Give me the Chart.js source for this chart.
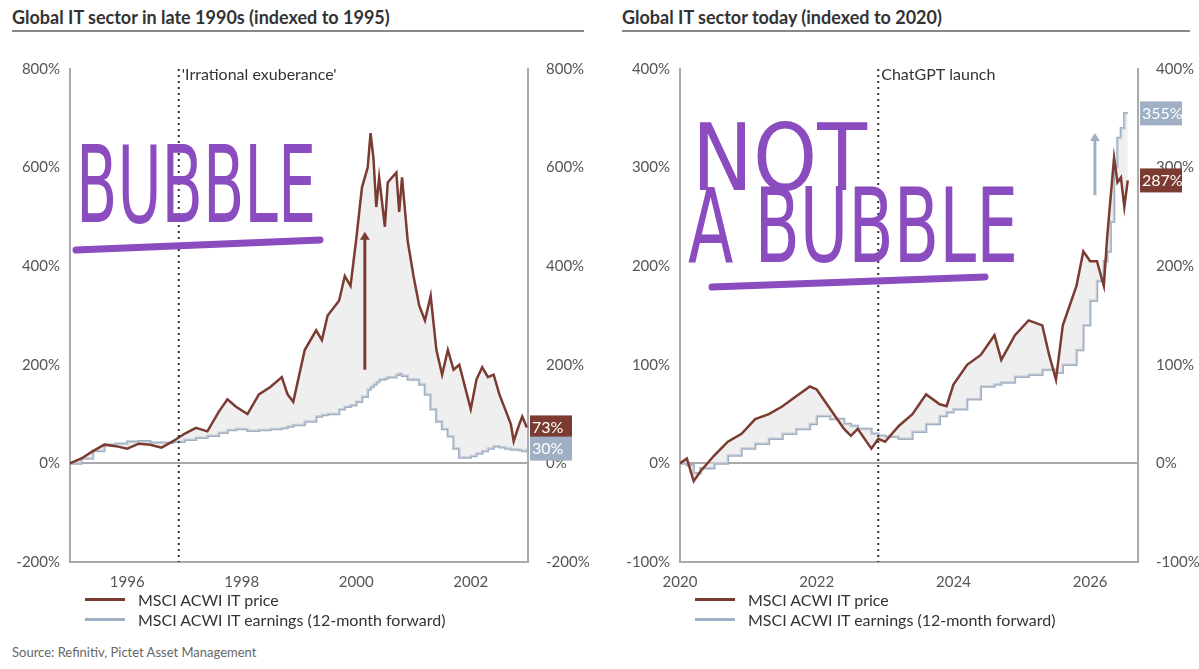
<!DOCTYPE html>
<html>
<head>
<meta charset="utf-8">
<script src="https://cdn.jsdelivr.net/npm/chart.js@4"></script>
<style>
body { margin:0; width:1199px; height:669px; background:#fff; font-family:Lato, sans-serif; position:relative; overflow:hidden; }
.title { position:absolute; top:6px; font-size:18px; font-weight:bold; color:#333; }
.rule { position:absolute; top:30px; height:2px; background:#888; }
.box { position:absolute; top:50px; height:540px; }
.legend { position:absolute; font-size:16px; color:#333; }
.legend div { height:20px; display:flex; align-items:center; }
.legend span { display:inline-block; width:40px; height:3px; margin-right:13px; }
.source { position:absolute; left:12px; top:644px; font-size:13px; color:#666; }
</style>
</head>
<body>
<div class="title" style="left:12px">Global IT sector in late 1990s (indexed to 1995)</div>
<div class="rule" style="left:12px;width:572px"></div>
<div class="title" style="left:622px">Global IT sector today (indexed to 2020)</div>
<div class="rule" style="left:622px;width:568px"></div>
<div class="box" style="left:0;width:600px"><canvas id="left"></canvas></div>
<div class="box" style="left:610px;width:589px"><canvas id="right"></canvas></div>
<div class="legend" style="left:85px;top:589px">
  <div><span style="background:#7b3b31"></span>MSCI ACWI IT price</div>
  <div><span style="background:#9fb0c4"></span>MSCI ACWI IT earnings (12-month forward)</div>
</div>
<div class="legend" style="left:695px;top:589px">
  <div><span style="background:#7b3b31"></span>MSCI ACWI IT price</div>
  <div><span style="background:#9fb0c4"></span>MSCI ACWI IT earnings (12-month forward)</div>
</div>
<div class="source">Source: Refinitiv, Pictet Asset Management</div>
<script>
// Late 1990s (decimal years, % vs 1995)
const oldDates = [1995.0,1995.2,1995.4,1995.6,1995.8,1996.0,1996.2,1996.4,1996.6,1996.8,1997.0,1997.2,1997.4,1997.6,1997.75,1997.9,1998.1,1998.3,1998.5,1998.7,1998.8,1998.9,1999.1,1999.3,1999.4,1999.5,1999.7,1999.8,1999.9,2000.0,2000.1,2000.2,2000.25,2000.3,2000.35,2000.4,2000.5,2000.55,2000.7,2000.75,2000.8,2000.9,2001.0,2001.1,2001.2,2001.3,2001.4,2001.5,2001.6,2001.7,2001.8,2002.0,2002.1,2002.2,2002.3,2002.4,2002.5,2002.6,2002.7,2002.75,2002.85,2002.9,2002.98];
const oldPrice = [0,10,25,38,35,30,40,38,32,45,60,72,65,105,130,115,100,140,155,175,140,125,230,270,250,300,330,380,360,455,560,600,670,620,520,580,480,570,590,510,580,450,380,320,290,340,230,180,230,190,200,110,170,195,175,180,140,110,80,45,80,95,73];
const oldEarn = [0,10,25,38,40,44,45,42,42,44,48,52,56,62,68,70,66,68,70,72,75,78,85,95,98,100,110,115,118,125,135,150,155,160,165,170,172,175,180,182,178,170,170,160,140,110,85,70,55,30,12,15,20,25,30,35,33,30,28,28,27,25,30];
const oldTicks = [1996,1998,2000,2002];

// Today (decimal years, % vs 2020)
const newDates = [2020.0,2020.1,2020.2,2020.3,2020.5,2020.7,2020.9,2021.1,2021.3,2021.5,2021.7,2021.9,2022.0,2022.2,2022.4,2022.5,2022.6,2022.8,2022.9,2023.0,2023.2,2023.4,2023.6,2023.8,2023.9,2024.0,2024.2,2024.4,2024.6,2024.7,2024.9,2025.1,2025.3,2025.4,2025.5,2025.6,2025.8,2025.9,2026.0,2026.1,2026.2,2026.25,2026.3,2026.35,2026.4,2026.45,2026.5,2026.55];
const newPrice = [0,5,-18,-8,8,22,30,45,50,58,68,78,75,55,35,28,35,15,25,22,38,50,70,60,58,80,100,110,130,105,130,145,140,110,85,140,180,215,205,205,180,230,270,310,285,290,260,287];
const newEarn = [0,-2,-10,-5,0,8,15,20,25,30,35,40,48,45,40,38,35,30,28,27,25,32,40,48,52,55,65,78,80,82,88,90,95,95,92,100,115,140,165,185,205,215,245,300,330,340,355,355];
const newTicks = [2020,2022,2024,2026];

const brown = '#7b3b31', blue = '#9fb0c4', purple = '#8b4cc0';

function pts(xs, ys) { return xs.map((x, i) => ({ x: x, y: ys[i] })); }

const overlay = {
  id: 'overlay',
  afterDatasetsDraw(chart) {
    const o = chart.options.plugins.overlay;
    const ctx = chart.ctx, a = chart.chartArea;
    const xs = chart.scales.x, ys = chart.scales.y;
    ctx.save();
    // dotted event line
    const ex = xs.getPixelForValue(o.eventX);
    ctx.strokeStyle = '#333'; ctx.lineWidth = 2; ctx.setLineDash([2, 4]);
    ctx.beginPath(); ctx.moveTo(ex, a.top); ctx.lineTo(ex, a.bottom); ctx.stroke();
    ctx.setLineDash([]);
    ctx.fillStyle = '#333'; ctx.font = '16px Lato'; ctx.textBaseline = 'middle';
    ctx.fillText(o.eventText, ex + 3, a.top + 6);
    // arrow
    const ax = xs.getPixelForValue(o.arrow[0]);
    const ay0 = ys.getPixelForValue(o.arrow[1]), ay1 = ys.getPixelForValue(o.arrow[2]);
    ctx.strokeStyle = o.arrowColor; ctx.fillStyle = o.arrowColor; ctx.lineWidth = 3;
    ctx.beginPath(); ctx.moveTo(ax, ay0); ctx.lineTo(ax, ay1 + 6); ctx.stroke();
    ctx.beginPath(); ctx.moveTo(ax - 5, ay1 + 8); ctx.lineTo(ax + 5, ay1 + 8); ctx.lineTo(ax, ay1); ctx.fill();
    // end labels
    o.ends.forEach(e => {
      const y = ys.getPixelForValue(e.v);
      ctx.fillStyle = e.c; ctx.fillRect(a.right + 2, y - 12, 42, 24);
      ctx.fillStyle = '#fff'; ctx.font = '16px Lato'; ctx.textAlign = 'left';
      ctx.fillText(e.t, a.right + 4, y);
    });
    // handwriting, stretched to fit the box it occupies
    ctx.fillStyle = purple; ctx.strokeStyle = purple; ctx.lineCap = 'round'; ctx.lineJoin = 'round';
    ctx.textBaseline = 'alphabetic';
    o.words.forEach(w => {
      ctx.save();
      ctx.font = '100px "DejaVu Sans"';
      const m = ctx.measureText(w.t);
      const sx = w.w / m.width, sy = w.h / 73;
      ctx.translate(w.x, w.y);
      ctx.scale(sx, sy);
      ctx.fillText(w.t, 0, 0);
      ctx.restore();
    });
    ctx.lineWidth = 7;
    ctx.beginPath(); ctx.moveTo(o.line[0], o.line[1]); ctx.lineTo(o.line[2], o.line[3]); ctx.stroke();
    ctx.restore();
  }
};

function makeChart(id, dates, price, earn, xmin, xmax, ymin, ymax, step, ticks, ov, rightW) {
  const yAxis = (pos, w) => ({
    position: pos, min: ymin, max: ymax,
    grid: { display: false }, border: { color: '#aaa', width: 2 },
    afterFit: s => { s.width = w; },
    ticks: { stepSize: step, color: '#555', font: { family: 'Lato', size: 15 }, padding: 10, callback: v => v + '%' }
  });
  new Chart(document.getElementById(id), {
    type: 'line',
    data: { datasets: [
      { data: pts(dates, price), borderColor: brown, borderWidth: 2.5, pointRadius: 0, tension: 0,
        fill: { target: 1 }, backgroundColor: 'rgba(225,225,225,0.55)' },
      { data: pts(dates, earn), borderColor: blue, borderWidth: 2.5, pointRadius: 0, stepped: true, fill: false }
    ]},
    options: {
      responsive: true, maintainAspectRatio: false, animation: false,
      layout: { padding: { top: 12 } },
      plugins: { legend: { display: false }, tooltip: { enabled: false }, overlay: ov },
      scales: {
        x: { type: 'linear', min: xmin, max: xmax,
          afterBuildTicks: s => { s.ticks = ticks.map(v => ({ value: v })); },
          afterFit: s => { s.height = 28; },
          grid: { display: false }, border: { color: '#aaa', width: 2 },
          ticks: { color: '#555', font: { family: 'Lato', size: 15 }, callback: v => v } },
        y: Object.assign(yAxis('left', 70), { grid: { color: c => c.tick.value === 0 ? '#aaa' : 'transparent', lineWidth: 2, drawTicks: false } }),
        y2: yAxis('right', rightW)
      }
    },
    plugins: [overlay]
  });
}

makeChart('left', oldDates, oldPrice, oldEarn, 1995, 2003, -200, 800, 200, oldTicks, {
  eventX: 1996.9, eventText: "'Irrational exuberance'",
  arrow: [2000.15, 190, 470], arrowColor: brown,
  ends: [{ v: 73, t: '73%', c: brown }, { v: 30, t: '30%', c: blue }],
  words: [{ t: 'BUBBLE', x: 76, y: 172, w: 240, h: 78 }],
  line: [76, 200, 320, 190]
}, 72);

makeChart('right', newDates, newPrice, newEarn, 2020, 2026.7, -100, 400, 100, newTicks, {
  eventX: 2022.9, eventText: 'ChatGPT launch',
  arrow: [2026.07, 272, 335], arrowColor: blue,
  ends: [{ v: 355, t: '355%', c: blue }, { v: 287, t: '287%', c: brown }],
  words: [{ t: 'NOT', x: 82, y: 140, w: 175, h: 68 }, { t: 'A BUBBLE', x: 78, y: 212, w: 330, h: 75 }],
  line: [102, 237, 375, 227]
}, 61);
</script>
</body>
</html>
